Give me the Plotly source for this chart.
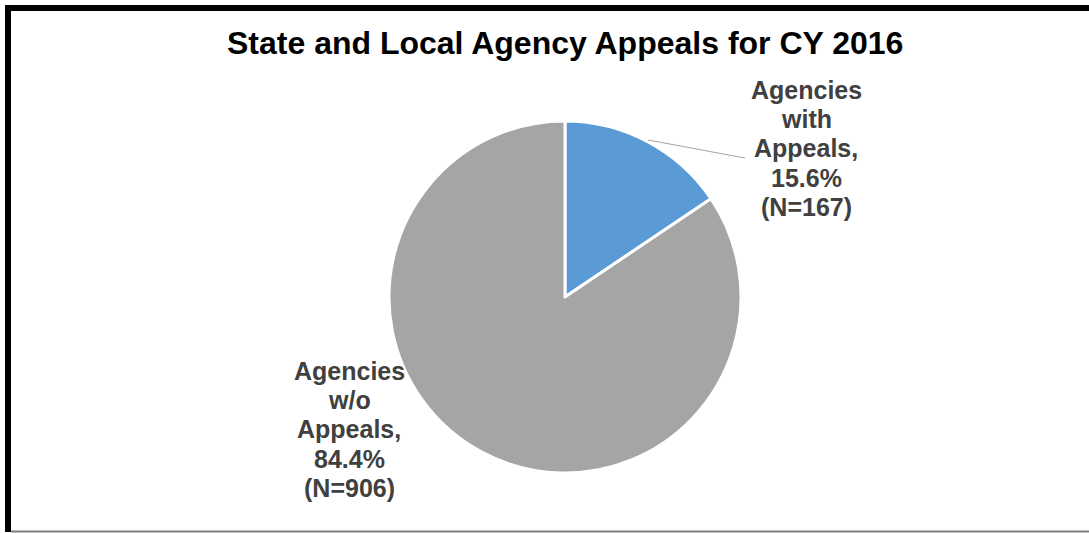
import plotly.graph_objects as go

# Agency appeal counts, CY 2016
categories = ["Agencies with Appeals", "Agencies w/o Appeals"]
counts = [167, 906]
colors = ["#5B9BD5", "#A5A5A5"]
title_text = "State and Local Agency Appeals for CY 2016"

W, H = 1089, 533
FONT = "Liberation Sans, Arial, sans-serif"


def px_x(x):
    return x / W


def px_y(y):
    return 1 - y / H


total = sum(counts)
pcts = [c / total * 100 for c in counts]

# each data label is stacked one word / item per line
label_lines = []
for cat, p, c in zip(categories, pcts, counts):
    words = cat.split(" ")
    words[-1] += ","
    label_lines.append(words + [f"{p:.1f}%", f"(N={c})"])

# pie placement (pixels)
cx, cy, r = 565, 297, 176

fig = go.Figure(
    go.Pie(
        labels=categories,
        values=counts,
        sort=False,
        direction="clockwise",
        rotation=0,
        marker=dict(colors=colors, line=dict(color="white", width=3)),
        textinfo="none",
        hoverinfo="skip",
        showlegend=False,
        domain=dict(x=[px_x(cx - r), px_x(cx + r)], y=[px_y(cy + r), px_y(cy - r)]),
    )
)

# label anchor: (center x, first line y), line pitch
label_pos = [(806, 90), (349, 371)]
line_pitch = 29.2

annotations = []
for lines, (x, y0) in zip(label_lines, label_pos):
    for i, ln in enumerate(lines):
        annotations.append(
            dict(
                text=f"<b>{ln}</b>",
                x=px_x(x),
                y=px_y(y0 + i * line_pitch),
                xref="paper",
                yref="paper",
                xanchor="center",
                yanchor="middle",
                showarrow=False,
                font=dict(family=FONT, size=25, color="#404040"),
            )
        )

annotations.append(
    dict(
        text=f"<b>{title_text}</b>",
        x=px_x(565),
        y=px_y(43),
        xref="paper",
        yref="paper",
        xanchor="center",
        yanchor="middle",
        showarrow=False,
        font=dict(family=FONT, size=32, color="black"),
    )
)

shapes = [
    # leader line for the small slice
    dict(type="line", xref="paper", yref="paper",
         x0=px_x(648), y0=px_y(140), x1=px_x(745), y1=px_y(158),
         line=dict(color="#A6A6A6", width=1.2)),
    # chart frame
    dict(type="line", xref="paper", yref="paper",
         x0=px_x(5), y0=px_y(8), x1=px_x(1089), y1=px_y(8),
         line=dict(color="black", width=6)),
    dict(type="line", xref="paper", yref="paper",
         x0=px_x(8), y0=px_y(5), x1=px_x(8), y1=px_y(532),
         line=dict(color="black", width=6)),
    dict(type="line", xref="paper", yref="paper",
         x0=px_x(11), y0=px_y(531.5), x1=px_x(1089), y1=px_y(531.5),
         line=dict(color="#7F7F7F", width=2)),
]

fig.update_layout(
    width=W,
    height=H,
    margin=dict(l=0, r=0, t=0, b=0),
    paper_bgcolor="white",
    plot_bgcolor="white",
    annotations=annotations,
    shapes=shapes,
)

fig.write_html("out.html")
